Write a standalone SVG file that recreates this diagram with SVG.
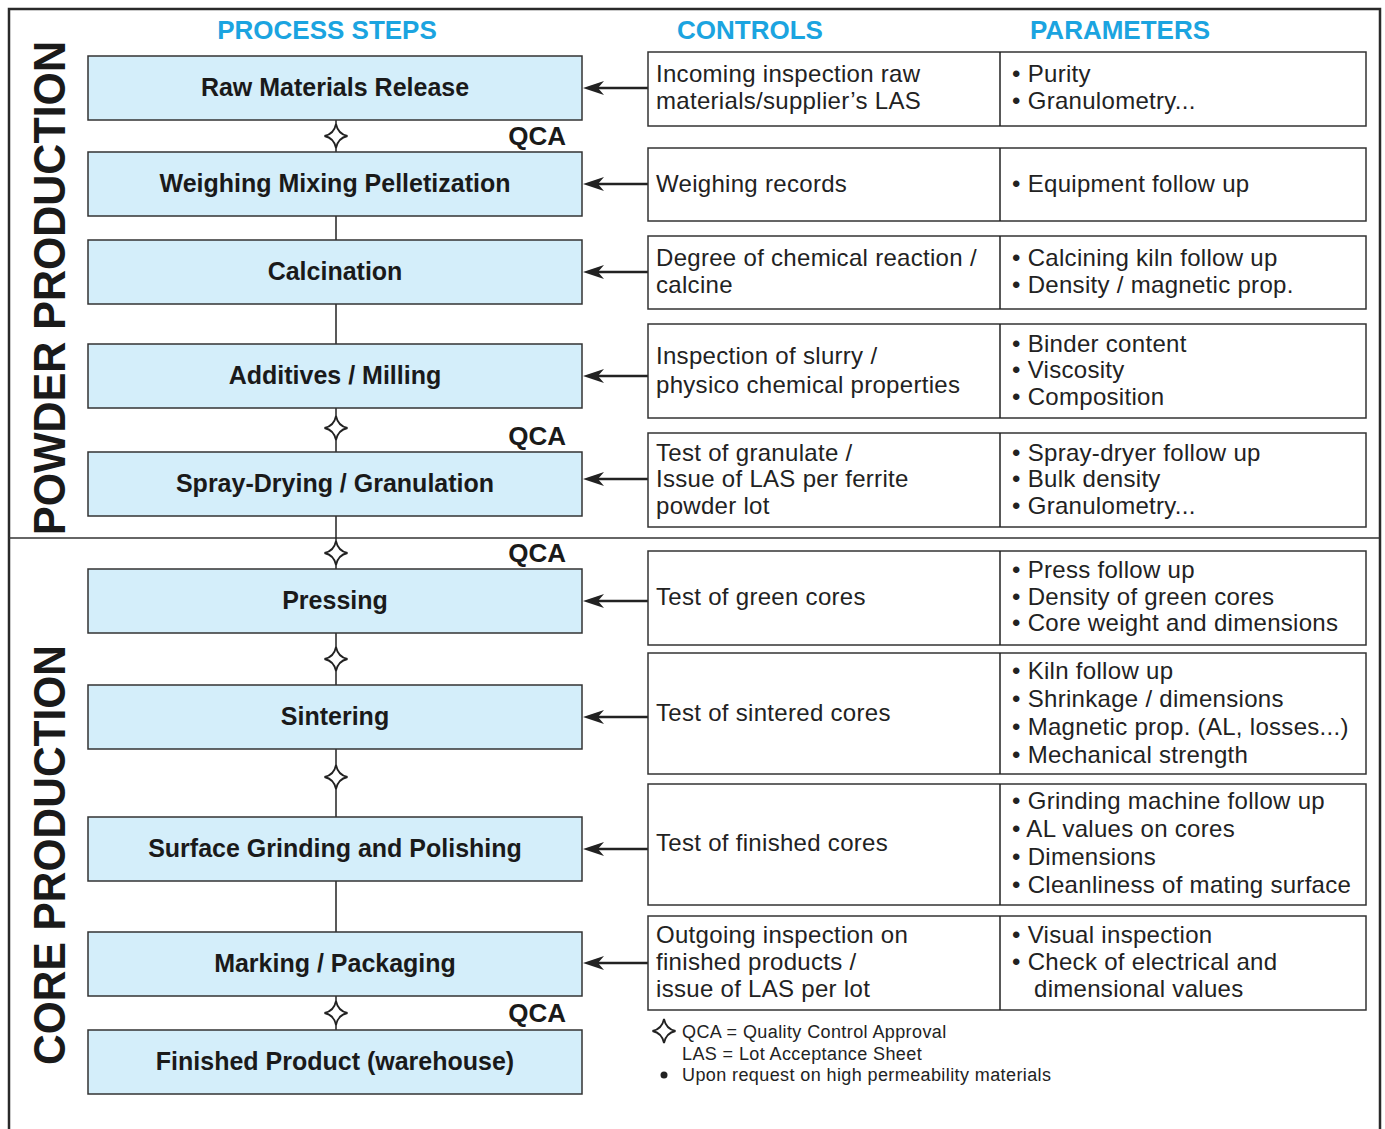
<svg xmlns="http://www.w3.org/2000/svg" width="1385" height="1129" viewBox="0 0 1385 1129">
<defs>
<path id="ah" d="M0,0 L21,-7 L15,0 L21,7 Z" fill="#222"/>
<path id="star" d="M0,-12 Q2,-2 11.5,0 Q2,2 0,12 Q-2,2 -11.5,0 Q-2,-2 0,-12 Z" fill="#fff" stroke="#222" stroke-width="1.8"/>
</defs>
<style>
.hdr{font-family:"Liberation Sans",Arial,sans-serif;font-weight:bold;font-size:26px;fill:#1ba4e0;text-anchor:middle}
.side{font-family:"Liberation Sans",Arial,sans-serif;font-weight:bold;font-size:44px;fill:#1a1a1a;text-anchor:middle}
.box{fill:#d4eefa;stroke:#333;stroke-width:1.5}
.bt{font-family:"Liberation Sans",Arial,sans-serif;font-weight:bold;font-size:25px;fill:#1a1a1a;text-anchor:middle}
.cell{fill:#fff;stroke:#333;stroke-width:1.5}
.t{font-family:"Liberation Sans",Arial,sans-serif;font-size:24px;letter-spacing:0.3px;fill:#222}
.qca{font-family:"Liberation Sans",Arial,sans-serif;font-weight:bold;font-size:26px;fill:#1a1a1a;text-anchor:end}
.leg{font-family:"Liberation Sans",Arial,sans-serif;font-size:18px;letter-spacing:0.4px;fill:#222}
.ln{stroke:#222;stroke-width:1.5;fill:none}
.arr{stroke:#222;stroke-width:2.5;fill:none}
</style>
<rect width="1385" height="1129" fill="#fff"/>
<!-- frame -->
<g id="frame">
<path d="M9,1129 V9 H1380 V1129" fill="none" stroke="#2a2a2a" stroke-width="2.5"/>
<line x1="9" y1="538" x2="1380" y2="538" stroke="#333" stroke-width="1.5"/>
</g>
<!-- headers -->
<g id="headers">
<text class="hdr" x="327" y="39">PROCESS STEPS</text>
<text class="hdr" x="750" y="39">CONTROLS</text>
<text class="hdr" x="1120" y="39">PARAMETERS</text>
<text class="side" transform="translate(65,288) rotate(-90)" textLength="494" lengthAdjust="spacingAndGlyphs">POWDER PRODUCTION</text>
<text class="side" transform="translate(65,855) rotate(-90)" textLength="420" lengthAdjust="spacingAndGlyphs">CORE PRODUCTION</text>
</g>
<!-- connectors -->
<g id="connectors">
<line class="ln" x1="336" y1="120" x2="336" y2="1030"/>
<line class="arr" x1="648" y1="88" x2="598" y2="88"/><use href="#ah" x="583" y="88"/>
<line class="arr" x1="648" y1="184" x2="598" y2="184"/><use href="#ah" x="583" y="184"/>
<line class="arr" x1="648" y1="272" x2="598" y2="272"/><use href="#ah" x="583" y="272"/>
<line class="arr" x1="648" y1="376" x2="598" y2="376"/><use href="#ah" x="583" y="376"/>
<line class="arr" x1="648" y1="479" x2="598" y2="479"/><use href="#ah" x="583" y="479"/>
<line class="arr" x1="648" y1="601" x2="598" y2="601"/><use href="#ah" x="583" y="601"/>
<line class="arr" x1="648" y1="717" x2="598" y2="717"/><use href="#ah" x="583" y="717"/>
<line class="arr" x1="648" y1="849" x2="598" y2="849"/><use href="#ah" x="583" y="849"/>
<line class="arr" x1="648" y1="963" x2="598" y2="963"/><use href="#ah" x="583" y="963"/>
<use href="#star" x="336" y="136"/>
<use href="#star" x="336" y="428"/>
<use href="#star" x="336" y="553"/>
<use href="#star" x="336" y="659"/>
<use href="#star" x="336" y="777"/>
<use href="#star" x="336" y="1013"/>
<text class="qca" x="566" y="145">QCA</text>
<text class="qca" x="566" y="445">QCA</text>
<text class="qca" x="566" y="562">QCA</text>
<text class="qca" x="566" y="1022">QCA</text>
</g>
<!-- process steps -->
<g id="step1"><rect class="box" x="88" y="56" width="494" height="64"/><text class="bt" x="335" y="96">Raw Materials Release</text></g>
<g id="step2"><rect class="box" x="88" y="152" width="494" height="64"/><text class="bt" x="335" y="192">Weighing Mixing Pelletization</text></g>
<g id="step3"><rect class="box" x="88" y="240" width="494" height="64"/><text class="bt" x="335" y="280">Calcination</text></g>
<g id="step4"><rect class="box" x="88" y="344" width="494" height="64"/><text class="bt" x="335" y="384">Additives / Milling</text></g>
<g id="step5"><rect class="box" x="88" y="452" width="494" height="64"/><text class="bt" x="335" y="492">Spray-Drying / Granulation</text></g>
<g id="step6"><rect class="box" x="88" y="569" width="494" height="64"/><text class="bt" x="335" y="609">Pressing</text></g>
<g id="step7"><rect class="box" x="88" y="685" width="494" height="64"/><text class="bt" x="335" y="725">Sintering</text></g>
<g id="step8"><rect class="box" x="88" y="817" width="494" height="64"/><text class="bt" x="335" y="857">Surface Grinding and Polishing</text></g>
<g id="step9"><rect class="box" x="88" y="932" width="494" height="64"/><text class="bt" x="335" y="972">Marking / Packaging</text></g>
<g id="step10"><rect class="box" x="88" y="1030" width="494" height="64"/><text class="bt" x="335" y="1070">Finished Product (warehouse)</text></g>
<!-- controls / parameters rows -->
<g id="row1"><rect class="cell" x="648" y="52" width="718" height="74"/><line class="ln" x1="1000" y1="52" x2="1000" y2="126"/>
<text class="t" x="656" y="82">Incoming inspection raw</text><text class="t" x="656" y="109">materials/supplier’s LAS</text>
<text class="t" x="1012" y="82">• Purity</text><text class="t" x="1012" y="109">• Granulometry...</text></g>
<g id="row2"><rect class="cell" x="648" y="148" width="718" height="73"/><line class="ln" x1="1000" y1="148" x2="1000" y2="221"/>
<text class="t" x="656" y="192">Weighing records</text>
<text class="t" x="1012" y="192">• Equipment follow up</text></g>
<g id="row3"><rect class="cell" x="648" y="236" width="718" height="73"/><line class="ln" x1="1000" y1="236" x2="1000" y2="309"/>
<text class="t" x="656" y="266">Degree of chemical reaction /</text><text class="t" x="656" y="293">calcine</text>
<text class="t" x="1012" y="266">• Calcining kiln follow up</text><text class="t" x="1012" y="293">• Density / magnetic prop.</text></g>
<g id="row4"><rect class="cell" x="648" y="324" width="718" height="94"/><line class="ln" x1="1000" y1="324" x2="1000" y2="418"/>
<text class="t" x="656" y="364">Inspection of slurry /</text><text class="t" x="656" y="393">physico chemical properties</text>
<text class="t" x="1012" y="352">• Binder content</text><text class="t" x="1012" y="378">• Viscosity</text><text class="t" x="1012" y="405">• Composition</text></g>
<g id="row5"><rect class="cell" x="648" y="433" width="718" height="94"/><line class="ln" x1="1000" y1="433" x2="1000" y2="527"/>
<text class="t" x="656" y="461">Test of granulate /</text><text class="t" x="656" y="487">Issue of LAS per ferrite</text><text class="t" x="656" y="514">powder lot</text>
<text class="t" x="1012" y="461">• Spray-dryer follow up</text><text class="t" x="1012" y="487">• Bulk density</text><text class="t" x="1012" y="514">• Granulometry...</text></g>
<g id="row6"><rect class="cell" x="648" y="551" width="718" height="94"/><line class="ln" x1="1000" y1="551" x2="1000" y2="645"/>
<text class="t" x="656" y="605">Test of green cores</text>
<text class="t" x="1012" y="578">• Press follow up</text><text class="t" x="1012" y="605">• Density of green cores</text><text class="t" x="1012" y="631">• Core weight and dimensions</text></g>
<g id="row7"><rect class="cell" x="648" y="653" width="718" height="121"/><line class="ln" x1="1000" y1="653" x2="1000" y2="774"/>
<text class="t" x="656" y="721">Test of sintered cores</text>
<text class="t" x="1012" y="679">• Kiln follow up</text><text class="t" x="1012" y="707">• Shrinkage / dimensions</text><text class="t" x="1012" y="735">• Magnetic prop. (AL, losses...)</text><text class="t" x="1012" y="763">• Mechanical strength</text></g>
<g id="row8"><rect class="cell" x="648" y="784" width="718" height="121"/><line class="ln" x1="1000" y1="784" x2="1000" y2="905"/>
<text class="t" x="656" y="851">Test of finished cores</text>
<text class="t" x="1012" y="809">• Grinding machine follow up</text><text class="t" x="1012" y="837">• AL values on cores</text><text class="t" x="1012" y="865">• Dimensions</text><text class="t" x="1012" y="893">• Cleanliness of mating surface</text></g>
<g id="row9"><rect class="cell" x="648" y="916" width="718" height="94"/><line class="ln" x1="1000" y1="916" x2="1000" y2="1010"/>
<text class="t" x="656" y="943">Outgoing inspection on</text><text class="t" x="656" y="970">finished products /</text><text class="t" x="656" y="997">issue of LAS per lot</text>
<text class="t" x="1012" y="943">• Visual inspection</text><text class="t" x="1012" y="970">• Check of electrical and</text><text class="t" x="1034" y="997">dimensional values</text></g>
<!-- legend -->
<g id="legend">
<use href="#star" x="664" y="1031"/>
<text class="leg" x="682" y="1038">QCA = Quality Control Approval</text>
<text class="leg" x="682" y="1060">LAS = Lot Acceptance Sheet</text>
<circle cx="664" cy="1075" r="3.5" fill="#222"/>
<text class="leg" x="682" y="1081">Upon request on high permeability materials</text>
</g>
</svg>
